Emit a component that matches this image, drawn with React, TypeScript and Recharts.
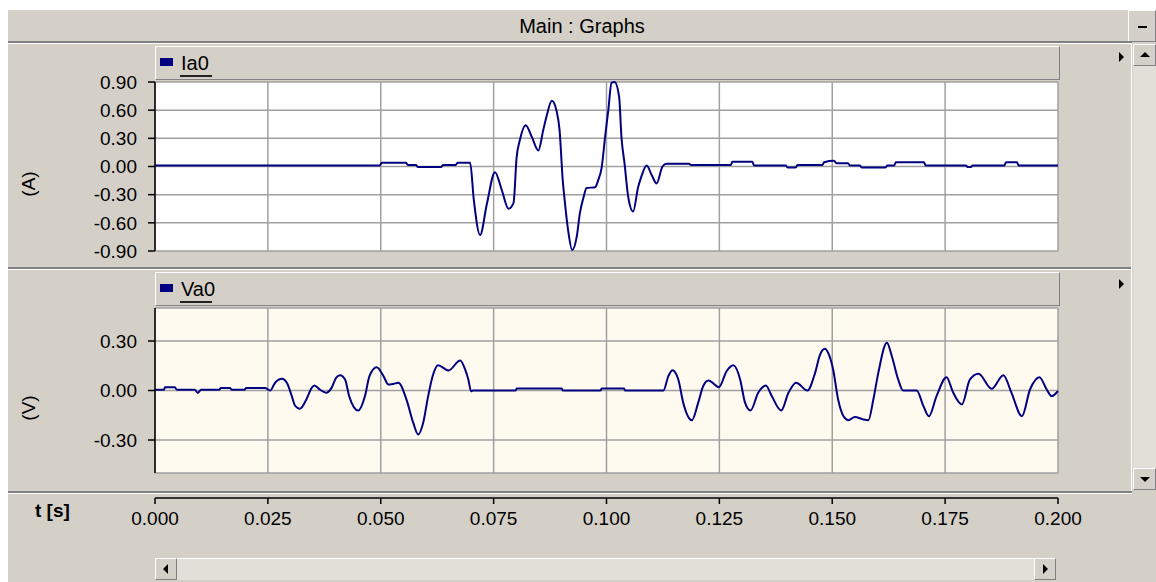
import { LineChart, Line, XAxis, YAxis, CartesianGrid } from 'recharts';

// time axis, seconds
const timeTicks = [0, 0.025, 0.05, 0.075, 0.1, 0.125, 0.15, 0.175, 0.2];
const iaTicks = [-0.9, -0.6, -0.3, 0, 0.3, 0.6, 0.9];
const vaTicks = [-0.3, 0, 0.3];

// Ia0 trace (A)
const iaTime = [
    0, 0.0498, 0.0502, 0.0556, 0.056, 0.0578, 0.0582, 0.0634, 0.0638, 0.0666, 0.067, 0.0698,
    0.0706, 0.072, 0.0735, 0.0753, 0.0768, 0.0783, 0.0794, 0.0801, 0.0808, 0.0821, 0.0835, 0.0849,
    0.086, 0.0867, 0.0879, 0.0889, 0.0896, 0.0903, 0.0908, 0.0915, 0.0924, 0.0934, 0.0941, 0.0949,
    0.0956, 0.0975, 0.0982, 0.0989, 0.0997, 0.1004, 0.1011, 0.1018, 0.1028, 0.1033, 0.104, 0.1048,
    0.1059, 0.107, 0.1077, 0.1089, 0.11, 0.1111, 0.1124, 0.1133, 0.1183, 0.1187, 0.1275, 0.1279,
    0.1323, 0.1327, 0.1397, 0.1401, 0.1419, 0.1423, 0.1478, 0.1482, 0.1504, 0.151, 0.1535, 0.1539,
    0.1561, 0.1565, 0.1618, 0.1622, 0.1637, 0.1641, 0.1703, 0.1707, 0.1796, 0.18, 0.1807, 0.1811,
    0.1881, 0.1885, 0.1909, 0.1913, 0.2,
];
const iaValue = [
    0.01, 0.01, 0.04, 0.04, 0.015, 0.015, -0.005, -0.005, 0.015, 0.015, 0.04, 0.04,
    -0.35, -0.73, -0.4, -0.06, -0.25, -0.45, -0.39, 0.1, 0.28, 0.44, 0.31, 0.17,
    0.39, 0.53, 0.7, 0.6, 0.39, -0.14, -0.39, -0.68, -0.89, -0.75, -0.5, -0.33,
    -0.23, -0.22, -0.14, -0.02, 0.32, 0.6, 0.89, 0.9, 0.74, 0.32, 0.03, -0.32,
    -0.48, -0.22, -0.11, 0.01, -0.09, -0.18, 0.0, 0.03, 0.03, 0.015, 0.015, 0.05,
    0.05, 0.01, 0.01, -0.01, -0.01, 0.015, 0.015, 0.045, 0.06, 0.035, 0.035, 0.01,
    0.01, -0.01, -0.01, 0.01, 0.01, 0.045, 0.045, 0.01, 0.01, -0.005, -0.005, 0.01,
    0.01, 0.045, 0.045, 0.01, 0.01,
];

// Va0 trace (V)
const vaTime = [
    0, 0.002, 0.0022, 0.0044, 0.0048, 0.0088, 0.0095, 0.0102, 0.0142, 0.0146, 0.0166, 0.017,
    0.0198, 0.0202, 0.0244, 0.0251, 0.0255, 0.0266, 0.0281, 0.0292, 0.0303, 0.031, 0.0321, 0.0336,
    0.0347, 0.0353, 0.0365, 0.0379, 0.0391, 0.0401, 0.041, 0.0421, 0.043, 0.045, 0.0465, 0.0475,
    0.0491, 0.0506, 0.0517, 0.0528, 0.0539, 0.0557, 0.0572, 0.0583, 0.0594, 0.0605, 0.0616, 0.0627,
    0.065, 0.0676, 0.0687, 0.0694, 0.07, 0.0704, 0.0799, 0.0801, 0.0901, 0.0903, 0.0987, 0.0989,
    0.1039, 0.1041, 0.1126, 0.1137, 0.1146, 0.1159, 0.117, 0.1189, 0.1203, 0.1214, 0.1226, 0.1249,
    0.1266, 0.1281, 0.1296, 0.1307, 0.1319, 0.1336, 0.1353, 0.1366, 0.1387, 0.1403, 0.142, 0.1445,
    0.1462, 0.1473, 0.1484, 0.1491, 0.1502, 0.1513, 0.1525, 0.1536, 0.155, 0.1569, 0.158, 0.1591,
    0.1602, 0.1621, 0.1632, 0.1646, 0.1657, 0.1687, 0.1702, 0.1714, 0.1731, 0.1753, 0.1768, 0.1787,
    0.1805, 0.1824, 0.1853, 0.1879, 0.1897, 0.192, 0.1938, 0.1959, 0.1975, 0.1986, 0.2,
];
const vaValue = [
    0.005, 0.005, 0.02, 0.02, 0.005, 0.005, -0.015, 0.005, 0.005, 0.015, 0.015, 0.005,
    0.005, 0.015, 0.015, 0.005, 0.0, 0.047, 0.071, 0.047, -0.034, -0.091, -0.111, -0.05,
    0.016, 0.03, 0.006, -0.014, 0.016, 0.077, 0.093, 0.067, -0.034, -0.121, -0.034, 0.087,
    0.141, 0.087, 0.036, 0.04, 0.047, -0.055, -0.196, -0.267, -0.196, -0.034, 0.097, 0.153,
    0.121, 0.182, 0.127, 0.067, -0.005, 0.0, 0.0, 0.012, 0.012, 0.0, 0.0, 0.012,
    0.012, 0.0, 0.0, 0.087, 0.123, 0.067, -0.075, -0.18, -0.075, 0.026, 0.061, 0.02,
    0.117, 0.153, 0.067, -0.075, -0.121, -0.014, 0.03, -0.034, -0.121, -0.014, 0.047, 0.0,
    0.107, 0.218, 0.253, 0.228, 0.127, -0.055, -0.156, -0.18, -0.16, -0.176, -0.18, -0.055,
    0.107, 0.289, 0.208, 0.067, 0.0, 0.0, -0.095, -0.156, -0.034, 0.081, -0.014, -0.085,
    0.067, 0.101, 0.01, 0.093, -0.014, -0.156, 0.006, 0.081, 0.006, -0.034, -0.003,
];

const iaData = iaTime.map((t, i) => ({ t, v: iaValue[i] }));
const vaData = vaTime.map((t, i) => ({ t, v: vaValue[i] }));

const GRAY = '#d4d0c8';
const FONT = '"Liberation Sans", Arial, sans-serif';
const tickStyle = { fontSize: 19, fill: '#000', fontFamily: FONT };

function Box({ x, y, w, h, bg = GRAY, children }: any) {
    return (
        <div style={{
            position: 'absolute', left: x, top: y, width: w, height: h, boxSizing: 'border-box', background: bg,
            borderTop: '1px solid #fff', borderLeft: '1px solid #fff', borderRight: '1px solid #808080', borderBottom: '1px solid #808080',
        }}>{children}</div>
    );
}

function Tri({ x, y, dir, s = 5 }: any) {
    const b: any = { position: 'absolute', left: x, top: y, width: 0, height: 0 };
    if (dir === 'up') Object.assign(b, { borderLeft: `${s}px solid transparent`, borderRight: `${s}px solid transparent`, borderBottom: `${s}px solid #000` });
    if (dir === 'down') Object.assign(b, { borderLeft: `${s}px solid transparent`, borderRight: `${s}px solid transparent`, borderTop: `${s}px solid #000` });
    if (dir === 'left') Object.assign(b, { borderTop: `${s}px solid transparent`, borderBottom: `${s}px solid transparent`, borderRight: `${s}px solid #000` });
    if (dir === 'right') Object.assign(b, { borderTop: `${s}px solid transparent`, borderBottom: `${s}px solid transparent`, borderLeft: `${s}px solid #000` });
    return <div style={b} />;
}

function Sep({ y }: any) {
    return (
        <>
            <div style={{ position: 'absolute', left: 8, top: y, width: 1124, height: 2, background: '#808080' }} />
            <div style={{ position: 'absolute', left: 8, top: y + 2, width: 1124, height: 1, background: '#fff' }} />
        </>
    );
}

function LegendBar({ y, name }: any) {
    return (
        <>
            <Box x={155} y={y} w={905} h={34} />
            <div style={{ position: 'absolute', left: 160, top: y + 12, width: 13, height: 8, background: '#000080' }} />
            <div style={{ position: 'absolute', left: 181, top: y + 6, fontSize: 20, lineHeight: '22px', color: '#000', fontFamily: FONT }}>{name}</div>
            <div style={{ position: 'absolute', left: 180, top: y + 29, width: name.length * 10 + 2, height: 2, background: '#222' }} />
        </>
    );
}

export default function App() {
    return (
        <div style={{ position: 'absolute', left: 0, top: 0, width: 1156, height: 582, background: '#fff', overflow: 'hidden', fontFamily: FONT }}>
            <div style={{ position: 'absolute', left: 8, top: 10, width: 1148, height: 572, background: GRAY }} />

            {/* title bar */}
            <div style={{ position: 'absolute', left: 8, top: 14, width: 1148, textAlign: 'center', fontSize: 20, lineHeight: '24px', color: '#000' }}>Main : Graphs</div>
            <Box x={1128} y={10} w={28} h={32}>
                <div style={{ position: 'absolute', left: 9, top: 15, width: 9, height: 2, background: '#000' }} />
            </Box>
            <Sep y={41} />
            <Sep y={267} />
            <Sep y={491} />

            <LegendBar y={46} name="Ia0" />
            <LegendBar y={272} name="Va0" />
            <Tri x={1119} y={52} dir="right" />
            <Tri x={1119} y={279} dir="right" />

            {/* vertical scrollbar */}
            <div style={{ position: 'absolute', left: 1131, top: 44, width: 1, height: 447, background: '#fff' }} />
            <div style={{ position: 'absolute', left: 1133, top: 44, width: 23, height: 446, background: '#e2dfd9' }} />
            <Box x={1133} y={44} w={23} h={22}><Tri x={6} y={7} dir="up" /></Box>
            <Box x={1133} y={468} w={23} h={22}><Tri x={6} y={8} dir="down" /></Box>

            {/* horizontal scrollbar */}
            <div style={{ position: 'absolute', left: 155, top: 558, width: 901, height: 22, background: '#e2dfd9', borderTop: '1px solid #fff', boxSizing: 'border-box' }} />
            <Box x={155} y={558} w={22} h={22}><Tri x={7} y={5} dir="left" /></Box>
            <Box x={1034} y={558} w={22} h={22}><Tri x={8} y={5} dir="right" /></Box>

            {/* axis titles */}
            <div style={{ position: 'absolute', left: 29, top: 184, transform: 'translate(-50%, -50%) rotate(-90deg)', fontSize: 19, color: '#000', whiteSpace: 'nowrap' }}>(A)</div>
            <div style={{ position: 'absolute', left: 29, top: 408, transform: 'translate(-50%, -50%) rotate(-90deg)', fontSize: 19, color: '#000', whiteSpace: 'nowrap' }}>(V)</div>
            <div style={{ position: 'absolute', left: 35, top: 500, fontSize: 19, fontWeight: 'bold', lineHeight: '22px', color: '#000' }}>t [s]</div>

            {/* Ia0 */}
            <div style={{ position: 'absolute', left: 0, top: 69 }}>
                <LineChart width={1070} height={195} data={iaData} margin={{ top: 13, right: 12, bottom: 13, left: 0 }}>
                    <CartesianGrid stroke="#a0a0a0" strokeWidth={1.5} fill="#ffffff" fillOpacity={1} />
                    <XAxis type="number" dataKey="t" domain={[0, 0.2]} ticks={timeTicks} hide height={0} />
                    <YAxis type="number" domain={[-0.9, 0.9]} ticks={iaTicks} interval={0} width={155}
                        tickFormatter={(v) => Number(v).toFixed(2)} tick={tickStyle}
                        axisLine={{ stroke: '#000', strokeWidth: 1.5 }} tickLine={{ stroke: '#000', strokeWidth: 1.5 }}
                        tickSize={7} tickMargin={11} />
                    <Line type="monotone" dataKey="v" stroke="#000080" strokeWidth={2} dot={false} isAnimationActive={false} />
                </LineChart>
            </div>

            {/* Va0 */}
            <div style={{ position: 'absolute', left: 0, top: 307 }}>
                <LineChart width={1070} height={167} data={vaData} margin={{ top: 1, right: 12, bottom: 1, left: 0 }}>
                    <CartesianGrid stroke="#a0a0a0" strokeWidth={1.5} fill="#fffaf0" fillOpacity={1} />
                    <XAxis type="number" dataKey="t" domain={[0, 0.2]} ticks={timeTicks} hide height={0} />
                    <YAxis type="number" domain={[-0.5, 0.5]} ticks={vaTicks} interval={0} width={155}
                        tickFormatter={(v) => Number(v).toFixed(2)} tick={tickStyle}
                        axisLine={{ stroke: '#000', strokeWidth: 1.5 }} tickLine={{ stroke: '#000', strokeWidth: 1.5 }}
                        tickSize={7} tickMargin={11} />
                    <Line type="monotone" dataKey="v" stroke="#000080" strokeWidth={2} dot={false} isAnimationActive={false} />
                </LineChart>
            </div>

            {/* shared time axis */}
            <div style={{ position: 'absolute', left: 0, top: 478 }}>
                <LineChart width={1110} height={60} data={vaData} margin={{ top: 0, right: 52, bottom: 0, left: 155 }}>
                    <XAxis type="number" dataKey="t" domain={[0, 0.2]} ticks={timeTicks} interval={0} height={40}
                        tickFormatter={(v) => Number(v).toFixed(3)} tick={tickStyle}
                        axisLine={{ stroke: '#000', strokeWidth: 1.5 }} tickLine={{ stroke: '#000', strokeWidth: 1.5 }}
                        tickSize={6} tickMargin={8} />
                    <YAxis hide domain={[-1, 1]} />
                    <Line dataKey="v" stroke="none" dot={false} isAnimationActive={false} />
                </LineChart>
            </div>
        </div>
    );
}
